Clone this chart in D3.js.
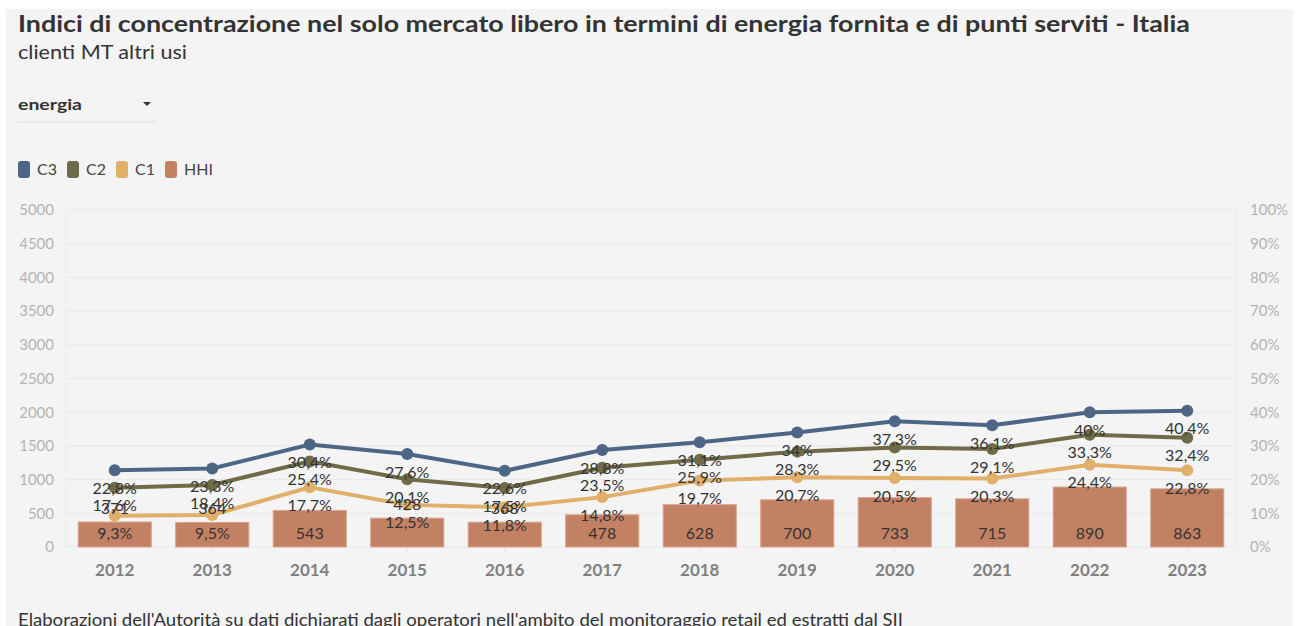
<!DOCTYPE html>
<html>
<head>
<meta charset="utf-8">
<script src="https://cdn.jsdelivr.net/npm/d3@7"></script>
<style>
  body { margin: 0; background: #ffffff; }
  svg { display: block; }
  text { font-family: Lato, "Open Sans", sans-serif; }
</style>
</head>
<body>
<div class="chart"></div>
<script>
// Dati: indici di concentrazione (mercato libero, clienti MT altri usi)
var years = ["2012", "2013", "2014", "2015", "2016", "2017", "2018", "2019", "2020", "2021", "2022", "2023"];
var c3 = [22.8, 23.3, 30.4, 27.6, 22.6, 28.8, 31.1, 34, 37.3, 36.1, 40, 40.4];
var c2 = [17.6, 18.4, 25.4, 20.1, 17.5, 23.5, 25.9, 28.3, 29.5, 29.1, 33.3, 32.4];
var c1 = [9.3, 9.5, 17.7, 12.5, 11.8, 14.8, 19.7, 20.7, 20.5, 20.3, 24.4, 22.8];
var hhi = [371, 364, 543, 428, 368, 478, 628, 700, 733, 715, 890, 863];
var leftTicks = [0, 500, 1000, 1500, 2000, 2500, 3000, 3500, 4000, 4500, 5000];
var rightTicks = [0, 10, 20, 30, 40, 50, 60, 70, 80, 90, 100];

var svgWidth = 1300;
var svgHeight = 626;
var margin = { top: 210, right: 64, bottom: 79, left: 66 };
var chartWidth = svgWidth - margin.left - margin.right;
var chartHeight = svgHeight - margin.top - margin.bottom;

var colors = { C3: "#4e6686", C2: "#6f6b48", C1: "#e0b06b", HHI: "#c38164" };

var svg = d3.select(".chart")
    .append("svg")
    .attr("width", svgWidth)
    .attr("height", svgHeight);

// sfondo grigio
svg.append("rect")
    .attr("x", 6).attr("y", 9)
    .attr("width", 1287).attr("height", svgHeight - 9)
    .attr("fill", "#f4f4f4");

function fitText(sel, width) {
    var len = sel.node().getComputedTextLength();
    if (Math.abs(len - width) > 3) {
        sel.attr("textLength", width).attr("lengthAdjust", "spacingAndGlyphs");
    }
}

// titolo e sottotitolo
var title = svg.append("text")
    .attr("x", 18).attr("y", 32)
    .attr("font-size", "23px")
    .attr("font-weight", "bold")
    .attr("fill", "#333")
    .text("Indici di concentrazione nel solo mercato libero in termini di energia fornita e di punti serviti - Italia");
fitText(title, 1172);

var sub = svg.append("text")
    .attr("x", 18).attr("y", 59)
    .attr("font-size", "19px")
    .attr("fill", "#333")
    .text("clienti MT altri usi");
fitText(sub, 169);

// menu a tendina finto
var drop = svg.append("text")
    .attr("x", 18).attr("y", 110)
    .attr("font-size", "16px")
    .attr("font-weight", "bold")
    .attr("fill", "#333")
    .text("energia");
fitText(drop, 64);
svg.append("path")
    .attr("d", "M143,102 L151,102 L147,106 Z")
    .attr("fill", "#333");
svg.append("line")
    .attr("x1", 18).attr("x2", 155)
    .attr("y1", 122).attr("y2", 122)
    .attr("stroke", "#dddddd");

// legenda
var legendItems = [
    { key: "C3", x: 18 }, { key: "C2", x: 67 }, { key: "C1", x: 116 }, { key: "HHI", x: 165 }
];
var legend = svg.append("g").attr("class", "legend");
legendItems.forEach(function(d) {
    legend.append("rect")
        .attr("x", d.x).attr("y", 161)
        .attr("width", 12).attr("height", 17)
        .attr("rx", 3)
        .attr("fill", colors[d.key]);
    legend.append("text")
        .attr("x", d.x + 19).attr("y", 175)
        .attr("font-size", "16px")
        .attr("fill", "#444")
        .text(d.key);
});

var chart = svg.append("g")
    .attr("transform", "translate(" + margin.left + ", " + margin.top + ")");

var xBandScale = d3.scaleBand()
    .domain(years)
    .range([0, chartWidth])
    .paddingInner(0.25)
    .paddingOuter(0.125);
var yLinearScale = d3.scaleLinear().domain([0, 5000]).range([chartHeight, 0]);
var yPercentScale = d3.scaleLinear().domain([0, 100]).range([chartHeight, 0]);

function xc(i) { return xBandScale(years[i]) + xBandScale.bandwidth() / 2; }

// griglia
chart.append("g")
    .selectAll("line")
    .data(leftTicks)
    .enter()
    .append("line")
    .attr("x1", 0).attr("x2", chartWidth)
    .attr("y1", function(d) { return yLinearScale(d); })
    .attr("y2", function(d) { return yLinearScale(d); })
    .attr("stroke", "#e9e9e9")
    .attr("stroke-width", 1);
chart.append("line")
    .attr("x1", 0).attr("x2", 0)
    .attr("y1", 0).attr("y2", chartHeight)
    .attr("stroke", "#ececec");
chart.append("line")
    .attr("x1", chartWidth).attr("x2", chartWidth)
    .attr("y1", 0).attr("y2", chartHeight)
    .attr("stroke", "#ececec");

// assi
var leftAxis = d3.axisLeft(yLinearScale).tickValues(leftTicks).tickSize(0).tickPadding(12)
    .tickFormat(d3.format("d"));
var rightAxis = d3.axisRight(yPercentScale).tickValues(rightTicks).tickSize(0).tickPadding(14)
    .tickFormat(function(d) { return d + "%"; });
var bottomAxis = d3.axisBottom(xBandScale).tickSize(7).tickPadding(10);

var gl = chart.append("g").call(leftAxis);
var gr = chart.append("g").attr("transform", "translate(" + chartWidth + ",0)").call(rightAxis);
var gb = chart.append("g").attr("transform", "translate(0," + chartHeight + ")").call(bottomAxis);
[gl, gr, gb].forEach(function(g) {
    g.select(".domain").remove();
    g.selectAll("text").attr("font-family", "Lato, sans-serif");
});
gl.selectAll("text").attr("font-size", "15px").attr("fill", "#b3b3b3");
gr.selectAll("text").attr("font-size", "15px").attr("fill", "#b3b3b3");
gb.selectAll("line").attr("stroke", "#e6e6e6");
gb.selectAll("text").attr("font-size", "17px").attr("font-weight", "bold").attr("fill", "#808080");

// barre HHI
chart.append("g")
    .selectAll("rect")
    .data(hhi)
    .enter()
    .append("rect")
    .attr("x", function(d, i) { return xBandScale(years[i]); })
    .attr("y", function(d) { return yLinearScale(d); })
    .attr("width", xBandScale.bandwidth())
    .attr("height", function(d) { return chartHeight - yLinearScale(d); })
    .attr("fill", colors.HHI)
    .attr("stroke", "#d9a58f")
    .attr("stroke-width", 1);

// linee C3, C2, C1
var series = [
    { key: "C3", values: c3 },
    { key: "C2", values: c2 },
    { key: "C1", values: c1 }
];
var line = d3.line()
    .x(function(d, i) { return xc(i); })
    .y(function(d) { return yPercentScale(d); });

series.slice().reverse().forEach(function(s) {
    var g = chart.append("g");
    g.append("path")
        .datum(s.values)
        .attr("d", line)
        .attr("fill", "none")
        .attr("stroke", colors[s.key])
        .attr("stroke-width", 4);
    g.selectAll("circle")
        .data(s.values)
        .enter()
        .append("circle")
        .attr("cx", function(d, i) { return xc(i); })
        .attr("cy", function(d) { return yPercentScale(d); })
        .attr("r", 6)
        .attr("fill", colors[s.key]);
});

// etichette dei valori
function fmt(v) { return String(v).replace(".", ","); }
var labels = chart.append("g")
    .attr("font-size", "16px")
    .attr("fill", "#333")
    .attr("text-anchor", "middle");

labels.selectAll("text.hhi")
    .data(hhi)
    .enter()
    .append("text")
    .attr("class", "hhi")
    .attr("x", function(d, i) { return xc(i); })
    .attr("y", function(d) {
        var h = chartHeight - yLinearScale(d);
        return h > 31 ? chartHeight - 14 : yLinearScale(d) - 14;
    })
    .attr("dy", "0.35em")
    .text(function(d) { return d; });

series.forEach(function(s) {
    labels.selectAll("text." + s.key)
        .data(s.values)
        .enter()
        .append("text")
        .attr("class", s.key)
        .attr("x", function(d, i) { return xc(i); })
        .attr("y", function(d) { return yPercentScale(d) + 18; })
        .attr("dy", "0.35em")
        .text(function(d) { return fmt(d) + "%"; });
});

// fonte
var src = svg.append("text")
    .attr("x", 18).attr("y", 626)
    .attr("font-size", "17px")
    .attr("fill", "#333")
    .text("Elaborazioni dell'Autorità su dati dichiarati dagli operatori nell'ambito del monitoraggio retail ed estratti dal SII");
fitText(src, 885);
</script>
</body>
</html>
